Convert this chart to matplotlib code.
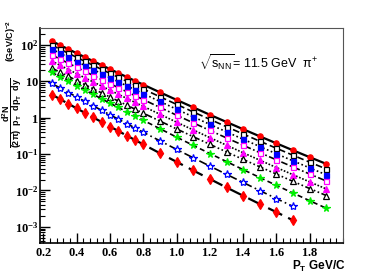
import matplotlib
matplotlib.use("Agg")
import matplotlib.pyplot as plt
from matplotlib.ticker import MultipleLocator, LogLocator, FixedLocator, FixedFormatter

plt.rcParams['mathtext.fontset'] = 'custom'
plt.rcParams['mathtext.rm'] = 'Liberation Serif:bold'
plt.rcParams['mathtext.bf'] = 'Liberation Sans:bold'
plt.rcParams['mathtext.sf'] = 'Liberation Sans'
plt.rcParams['mathtext.it'] = 'Liberation Sans:italic'

# pT bin centres (GeV/c)
pt = [0.25, 0.30, 0.35, 0.40, 0.45, 0.50, 0.55, 0.60, 0.65, 0.70, 0.75, 0.80,
      0.90, 1.00, 1.10, 1.20, 1.30, 1.40, 1.50, 1.60, 1.70, 1.80, 1.90]
pt_short = pt[:21]

# spectra, top to bottom
y_circle = [129, 99.5, 77.0, 59.7, 46.3, 35.9, 28.0, 21.8, 17.0, 13.3, 10.4, 8.14,
            5.02, 3.11, 1.94, 1.21, 0.765, 0.484, 0.309, 0.198, 0.127, 0.0824, 0.0537]
y_osq = [100, 77.1, 59.5, 46.0, 35.6, 27.6, 21.4, 16.7, 13.0, 10.1, 7.90, 6.17,
         3.79, 2.34, 1.45, 0.905, 0.568, 0.358, 0.227, 0.145, 0.0930, 0.0600, 0.0389]
y_bsq = [77.6, 59.6, 45.9, 35.3, 27.3, 21.1, 16.3, 12.6, 9.80, 7.61, 5.92, 4.61,
         2.81, 1.72, 1.06, 0.658, 0.410, 0.257, 0.162, 0.102, 0.0652, 0.0418, 0.0269]
y_msq = [53.7, 41.2, 31.7, 24.4, 18.8, 14.5, 11.2, 8.70, 6.74, 5.23, 4.07, 3.17,
         1.93, 1.18, 0.726, 0.449, 0.279, 0.175, 0.110, 0.0696, 0.0442, 0.0283, 0.0182]
y_mtri = [36.3, 27.8, 21.3, 16.3, 12.5, 9.65, 7.44, 5.74, 4.43, 3.43, 2.66, 2.06,
          1.25, 0.757, 0.463, 0.284, 0.176, 0.109, 0.0682, 0.0428, 0.0271, 0.0172, 0.0110]
y_otri = [23.4, 17.9, 13.8, 10.6, 8.13, 6.26, 4.82, 3.72, 2.88, 2.23, 1.73, 1.34,
          0.812, 0.494, 0.302, 0.186, 0.115, 0.0716, 0.0448, 0.0282, 0.0178, 0.0113, 0.00725]
y_gstar = [17.8, 13.4, 10.1, 7.64, 5.78, 4.38, 3.32, 2.52, 1.92, 1.46, 1.12, 0.852,
           0.500, 0.294, 0.174, 0.104, 0.0623, 0.0375, 0.0227, 0.0138, 0.00848, 0.00522, 0.00324]
y_bstar = [8.81, 6.61, 4.96, 3.73, 2.81, 2.12, 1.60, 1.21, 0.914, 0.693, 0.526, 0.400,
           0.232, 0.135, 0.0793, 0.0468, 0.0278, 0.0166, 0.00993, 0.00599, 0.00363]
y_diam = [4.37, 3.25, 2.43, 1.81, 1.36, 1.02, 0.763, 0.574, 0.432, 0.325, 0.245, 0.185,
          0.106, 0.0613, 0.0355, 0.0207, 0.0121, 0.00716, 0.00424, 0.00253, 0.00151]

fig = plt.figure(figsize=(3.82, 2.73), dpi=100)
ax = fig.add_axes([0.105, 0.110, 0.793, 0.787])

series = [
    (pt, y_circle, 'o', 'red', 'red', 3.8, '-', 1.6),
    (pt, y_osq, 's', 'white', 'black', 3.6, (0, (4, 2)), 1.2),
    (pt, y_bsq, 's', 'blue', 'blue', 3.6, (0, (1, 1.5)), 1.2),
    (pt, y_msq, 's', 'white', 'magenta', 3.6, (0, (4, 1.5, 1, 1.5)), 1.2),
    (pt, y_mtri, '^', 'magenta', 'magenta', 4.0, (0, (1, 1)), 1.2),
    (pt, y_otri, '^', 'white', 'black', 4.0, (0, (4, 1.5, 1, 1.5, 1, 1.5)), 1.2),
    (pt, y_gstar, '*', '#00ee00', '#00ee00', 5.5, (0, (3, 2)), 1.2),
    (pt_short, y_bstar, '*', 'white', 'blue', 6, (0, (5, 2, 1, 2)), 1.2),
    (pt_short, y_diam, 'd', 'red', 'red', 5, (0, (7, 3)), 1.6),
]

for x, y, m, fc, ec, ms, ls, lw in series:
    ax.plot(x, y, color='black', linestyle=ls, linewidth=lw, zorder=2)
    ax.plot(x, y, linestyle='none', marker=m, markersize=ms, markerfacecolor=fc,
            markeredgecolor=ec, markeredgewidth=0.9, zorder=3)

ax.set_yscale('log')
ax.set_xlim(0.18, 2.0)
ax.set_ylim(3.6e-4, 293)

xt = [0.2, 0.4, 0.6, 0.8, 1.0, 1.2, 1.4, 1.6, 1.8]
ax.set_xticks(xt)
ax.set_xticklabels([r'$\mathrm{%.1f}$' % v for v in xt])
ax.xaxis.set_minor_locator(MultipleLocator(0.04))

yt = [1e-3, 1e-2, 1e-1, 1, 10, 100]
ax.yaxis.set_major_locator(FixedLocator(yt))
ax.yaxis.set_major_formatter(FixedFormatter([r'$\mathrm{10^{-3}}$', r'$\mathrm{10^{-2}}$',
                                             r'$\mathrm{10^{-1}}$', r'$\mathrm{1}$',
                                             r'$\mathrm{10}$', r'$\mathrm{10^{2}}$']))
ax.yaxis.set_minor_locator(LogLocator(base=10, subs=range(2, 10), numticks=20))
ax.yaxis.set_minor_formatter(FixedFormatter([]))

ax.tick_params(which='both', direction='in', top=False, right=False, labelsize=9, pad=2)
ax.tick_params(axis='y', pad=1)
ax.tick_params(which='major', length=7, width=1)
ax.tick_params(which='minor', length=3.5, width=0.8)
for s in ['left', 'bottom']:
    ax.spines[s].set_linewidth(1.2)
for s in ['top', 'right']:
    ax.spines[s].set_linewidth(0.8)
    ax.spines[s].set_color('#555555')

ax.text(0.525, 0.81, r'$\mathsf{\sqrt{s_{NN}}}$= 11.5 GeV  $\mathsf{\pi^{+}}$',
        transform=ax.transAxes, fontsize=9, family='Liberation Sans')

fig.text(0.905, 0.012, r'$\mathbf{P_T}$ GeV/C', ha='right', fontsize=8.5,
         family='Liberation Sans', fontweight='bold')

fig.text(0.033, 0.585, r'$\mathbf{\dfrac{d^2N}{(2\pi)\ \ p_T\ \ dp_T\ \ dy}}$', rotation=90,
         ha='center', va='center', fontsize=6.5)
fig.text(0.030, 0.85, r'(GeV/C)$^{\mathbf{-2}}$', rotation=90, ha='center', va='center',
         fontsize=6.5, family='Liberation Sans', fontweight='bold')

fig.savefig('out.png', dpi=100)
